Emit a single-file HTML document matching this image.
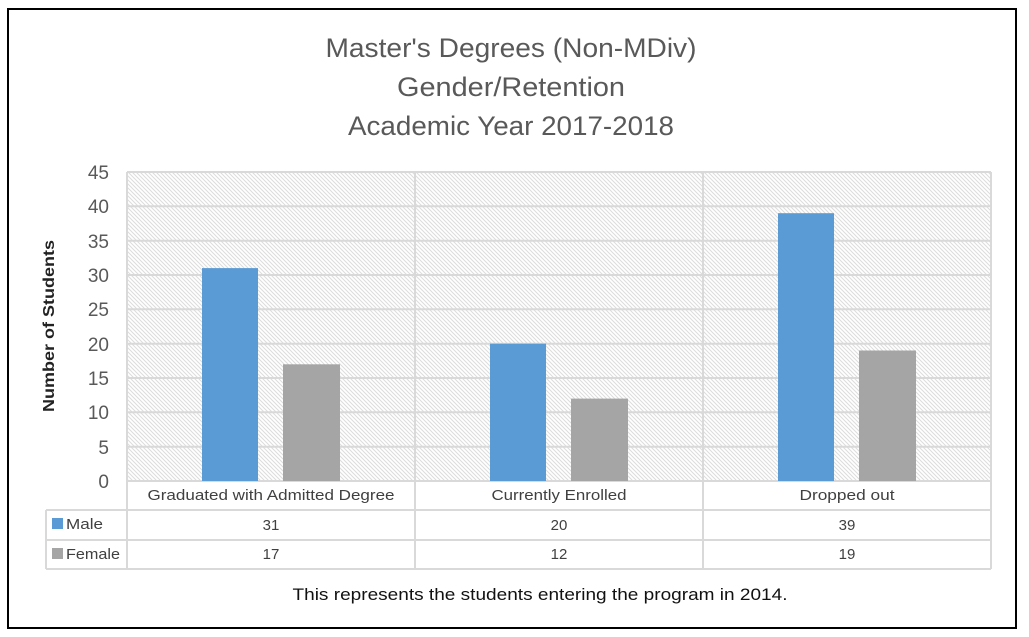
<!DOCTYPE html>
<html><head><style>
body{margin:0;background:#fff;}
svg{display:block;font-family:"Liberation Sans",sans-serif;}
</style></head><body>
<svg width="1029" height="637" xmlns="http://www.w3.org/2000/svg">
<defs>
<pattern id="h" width="4" height="4" patternUnits="userSpaceOnUse">
<rect width="4" height="4" fill="#fff"/>
<path d="M-1,-1 L5,5 M-1,3 L1,5 M3,-1 L5,1" stroke="#dcdcdc" stroke-width="1"/>
</pattern>
</defs>
<rect x="8" y="9" width="1008" height="619" fill="#fff" stroke="#000" stroke-width="2"/>
<g fill="#595959" font-size="27" text-anchor="middle">
<text x="511" y="57" textLength="371" lengthAdjust="spacingAndGlyphs">Master's Degrees (Non-MDiv)</text>
<text x="511" y="96" textLength="228" lengthAdjust="spacingAndGlyphs">Gender/Retention</text>
<text x="511" y="135" textLength="326" lengthAdjust="spacingAndGlyphs">Academic Year 2017-2018</text>
</g>
<rect x="127" y="172" width="864" height="309" fill="url(#h)"/>
<g stroke="#d9d9d9" stroke-width="2">
<line x1="127" y1="172" x2="991" y2="172"/>
<line x1="127" y1="206.3" x2="991" y2="206.3"/>
<line x1="127" y1="240.7" x2="991" y2="240.7"/>
<line x1="127" y1="275" x2="991" y2="275"/>
<line x1="127" y1="309.3" x2="991" y2="309.3"/>
<line x1="127" y1="343.7" x2="991" y2="343.7"/>
<line x1="127" y1="378" x2="991" y2="378"/>
<line x1="127" y1="412.3" x2="991" y2="412.3"/>
<line x1="127" y1="446.7" x2="991" y2="446.7"/>
<line x1="127" y1="481" x2="991" y2="481"/>
<line x1="127" y1="172" x2="127" y2="569"/>
<line x1="415" y1="172" x2="415" y2="569"/>
<line x1="703" y1="172" x2="703" y2="569"/>
<line x1="991" y1="172" x2="991" y2="569"/>
<line x1="46" y1="510" x2="991" y2="510"/>
<line x1="46" y1="540" x2="991" y2="540"/>
<line x1="46" y1="569" x2="991" y2="569"/>
<line x1="46" y1="510" x2="46" y2="569"/>
</g>
<g fill="#5b9bd5">
<rect x="202" y="268.1" width="56" height="212.9"/>
<rect x="490" y="343.7" width="56" height="137.3"/>
<rect x="778" y="213.2" width="56" height="267.8"/>
</g>
<g fill="#a5a5a5">
<rect x="283" y="364.3" width="57" height="116.7"/>
<rect x="571" y="398.6" width="57" height="82.4"/>
<rect x="859" y="350.5" width="57" height="130.5"/>
</g>
<g fill="#595959" font-size="19" text-anchor="end">
<text x="109" y="179">45</text>
<text x="109" y="213">40</text>
<text x="109" y="248">35</text>
<text x="109" y="282">30</text>
<text x="109" y="316">25</text>
<text x="109" y="351">20</text>
<text x="109" y="385">15</text>
<text x="109" y="419">10</text>
<text x="109" y="454">5</text>
<text x="109" y="488">0</text>
</g>
<text transform="translate(54,326) rotate(-90)" font-size="16" font-weight="bold" fill="#222" text-anchor="middle" textLength="172" lengthAdjust="spacingAndGlyphs">Number of Students</text>
<g fill="#404040" font-size="15" text-anchor="middle">
<text x="271" y="500" textLength="247" lengthAdjust="spacingAndGlyphs">Graduated with Admitted Degree</text>
<text x="559" y="500" textLength="135" lengthAdjust="spacingAndGlyphs">Currently Enrolled</text>
<text x="847" y="500" textLength="95" lengthAdjust="spacingAndGlyphs">Dropped out</text>
<text x="271" y="530">31</text>
<text x="559" y="530">20</text>
<text x="847" y="530">39</text>
<text x="271" y="559">17</text>
<text x="559" y="559">12</text>
<text x="847" y="559">19</text>
</g>
<rect x="52" y="518" width="11" height="11" fill="#5b9bd5"/>
<rect x="52" y="548" width="11" height="11" fill="#a5a5a5"/>
<g fill="#404040" font-size="15">
<text x="66" y="529" textLength="37" lengthAdjust="spacingAndGlyphs">Male</text>
<text x="66" y="559" textLength="54" lengthAdjust="spacingAndGlyphs">Female</text>
</g>
<text x="540" y="600" font-size="17" fill="#111" text-anchor="middle" textLength="495" lengthAdjust="spacingAndGlyphs">This represents the students entering the program in 2014.</text>
</svg>
</body></html>
